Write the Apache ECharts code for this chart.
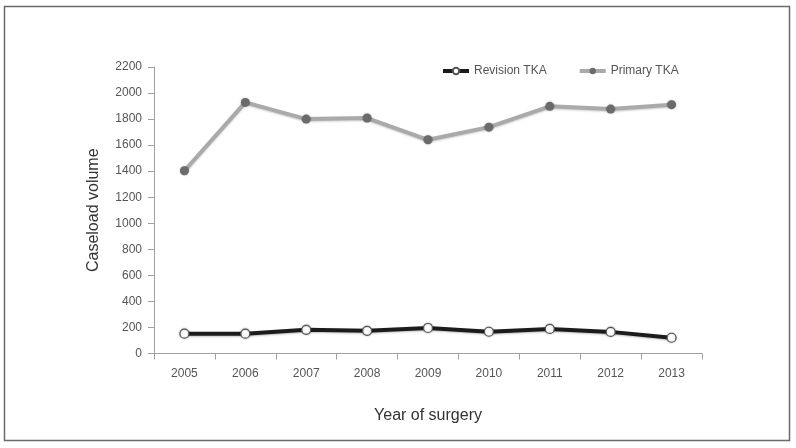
<!DOCTYPE html>
<html>
<head>
<meta charset="utf-8">
<script src="https://cdn.jsdelivr.net/npm/echarts@6/dist/echarts.min.js"></script>
<style>
html,body{margin:0;padding:0;background:#fff;}
#c{width:796px;height:448px;}
</style>
</head>
<body>
<div id="c"></div>
<script>
const years = ['2005','2006','2007','2008','2009','2010','2011','2012','2013'];
const revisionTKA = [152, 152, 182, 174, 196, 167, 189, 166, 121];
const primaryTKA = [1403, 1928, 1800, 1808, 1641, 1738, 1898, 1877, 1911];
const yTicks = [0, 200, 400, 600, 800, 1000, 1200, 1400, 1600, 1800, 2000, 2200];

const chart = echarts.init(document.getElementById('c'), null, {renderer: 'canvas'});
const font = 'Liberation Sans, Arial, sans-serif';
chart.setOption({
  animation: false,
  backgroundColor: '#fff',
  graphic: [{
    type: 'rect',
    shape: {x: 4.5, y: 6.5, width: 785, height: 434},
    style: {fill: 'none', stroke: '#6a6a6a', lineWidth: 1.5},
    silent: true
  }],
  grid: {left: 154, right: 94, top: 67, bottom: 94.5},
  legend: {
    top: 65, left: 441, padding: 0,
    itemWidth: 26, itemHeight: 8, itemGap: 31,
    textStyle: {fontFamily: font, fontSize: 12, color: '#555'},
    lineStyle: {width: 4},
    data: ['Revision TKA', 'Primary TKA']
  },
  xAxis: {
    type: 'category',
    data: years,
    boundaryGap: true,
    name: 'Year of surgery',
    nameLocation: 'middle',
    nameGap: 54,
    nameTextStyle: {fontFamily: font, fontSize: 16, color: '#333'},
    axisLine: {lineStyle: {color: '#a0a0a0', width: 1}},
    axisTick: {show: true, alignWithLabel: false, length: 6, lineStyle: {color: '#a0a0a0'}},
    axisLabel: {fontFamily: font, fontSize: 12, color: '#555', margin: 14}
  },
  yAxis: {
    type: 'value',
    min: 0, max: 2200, interval: 200,
    name: 'Caseload volume',
    nameLocation: 'middle',
    nameGap: 52,
    nameTextStyle: {fontFamily: font, fontSize: 16, color: '#333'},
    axisLine: {show: true, lineStyle: {color: '#a0a0a0', width: 1}},
    axisTick: {show: true, length: 6, lineStyle: {color: '#a0a0a0'}},
    axisLabel: {fontFamily: font, fontSize: 12, color: '#555', margin: 12,
      formatter: v => yTicks.includes(v) ? String(v) : ''},
    splitLine: {show: false}
  },
  series: [
    {
      name: 'Revision TKA',
      type: 'line',
      data: revisionTKA,
      symbol: 'circle',
      symbolSize: 9,
      lineStyle: {color: '#1c1c1c', width: 4, shadowColor: 'rgba(0,0,0,0.25)', shadowBlur: 2, shadowOffsetY: 1},
      itemStyle: {color: '#ffffff', borderColor: '#555', borderWidth: 1.2, shadowColor: 'rgba(0,0,0,0.3)', shadowBlur: 2}
    },
    {
      name: 'Primary TKA',
      type: 'line',
      data: primaryTKA,
      symbol: 'circle',
      symbolSize: 9,
      lineStyle: {color: '#aaaaaa', width: 4, shadowColor: 'rgba(0,0,0,0.2)', shadowBlur: 2, shadowOffsetY: 1},
      itemStyle: {color: '#6b6b6b', borderColor: '#6b6b6b', borderWidth: 0, shadowColor: 'rgba(0,0,0,0.3)', shadowBlur: 2}
    }
  ]
});
</script>
</body>
</html>
